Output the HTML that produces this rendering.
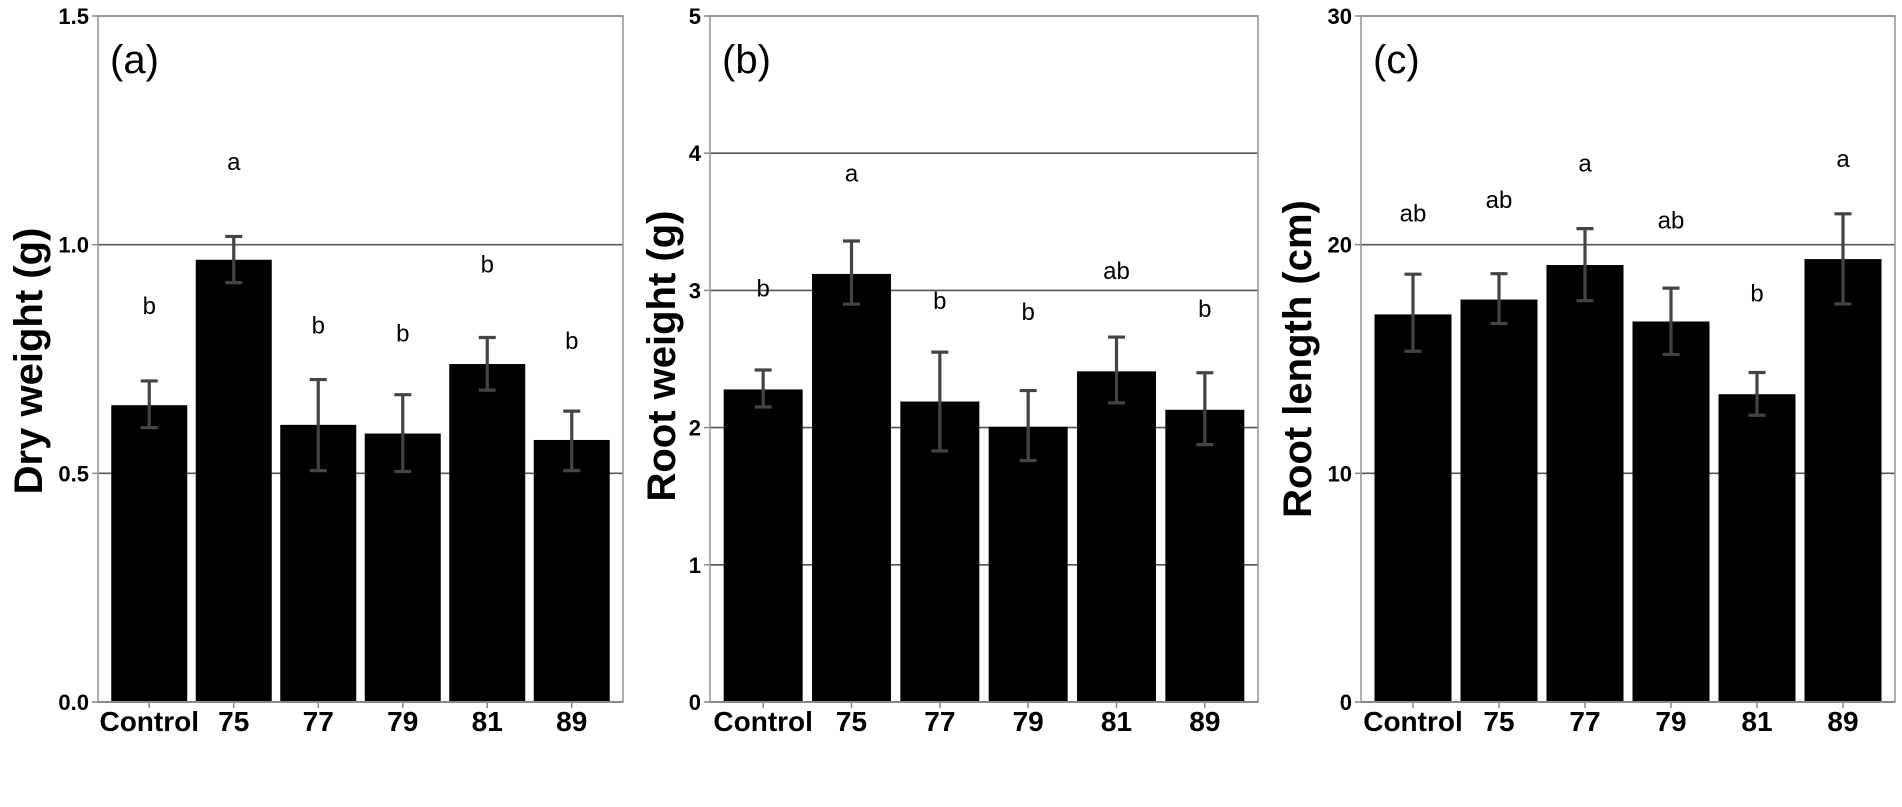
<!DOCTYPE html>
<html><head><meta charset="utf-8">
<style>
html,body{margin:0;padding:0;background:#fff;}
svg{display:block;}
text{font-family:"Liberation Sans",Arial,sans-serif;}
</style></head>
<body>
<svg id="fig" width="1902" height="807" viewBox="0 0 1902 807" xmlns="http://www.w3.org/2000/svg"></svg>
<script>
const categories = ["Control","75","77","79","81","89"];

const dryMeans = [0.649,0.967,0.606,0.587,0.739,0.573];
const dryErrHigh = [0.702,1.018,0.705,0.672,0.797,0.636];
const dryErrLow = [0.600,0.917,0.506,0.504,0.682,0.506];
const dryLetters = ["b","a","b","b","b","b"];
const dryLetterVals = [0.868,1.183,0.825,0.808,0.959,0.791];
const dryTicks = [0,0.5,1.0,1.5];
const dryTickLabels = ["0.0","0.5","1.0","1.5"];

const rootMeans = [2.278,3.12,2.19,2.006,2.41,2.13];
const rootErrHigh = [2.42,3.36,2.55,2.27,2.66,2.40];
const rootErrLow = [2.15,2.90,1.83,1.76,2.18,1.876];
const rootLetters = ["b","a","b","b","ab","b"];
const rootLetterVals = [3.02,3.86,2.93,2.85,3.15,2.87];
const rootTicks = [0,1,2,3,4,5];
const rootTickLabels = ["0","1","2","3","4","5"];

const lenMeans = [16.95,17.6,19.11,16.64,13.46,19.37];
const lenErrHigh = [18.71,18.73,20.7,18.1,14.41,21.35];
const lenErrLow = [15.34,16.55,17.55,15.2,12.54,17.41];
const lenLetters = ["ab","ab","a","ab","b","a"];
const lenLetterVals = [21.4,22.0,23.6,21.1,17.9,23.8];
const lenTicks = [0,10,20,30];
const lenTickLabels = ["0","10","20","30"];

const NS = "http://www.w3.org/2000/svg";
const svg = document.getElementById("fig");
function mk(tag, attrs, parent){
  const e = document.createElementNS(NS, tag);
  for (const k in attrs) e.setAttribute(k, attrs[k]);
  (parent||svg).appendChild(e);
  return e;
}

function drawPanel(cfg){
  const g = mk("g", {});
  
  
  const L = cfg.left, R = cfg.right, T = 16, B = 702;
  const yMax = cfg.ticks[cfg.ticks.length-1];
  const y = v => B - (v / yMax) * (B - T);
  const n = categories.length;
  const pad = cfg.pad, slot = (R - L - 2*pad) / n, bw = cfg.bw;
  const xc = i => L + pad + slot*(i+0.5);

  // gridlines
  cfg.ticks.forEach((t, i) => {
    if (t !== 0 && t !== yMax) {
      const gl = mk("line", {x1:L, x2:R, y1:y(t), y2:y(t), stroke:"#555", "stroke-width":1.6}, g);
      
      
    }
    const tm = mk("line", {x1:L-6, x2:L, y1:y(t), y2:y(t), stroke:"#888", "stroke-width":1.5}, g);
    
    
    const tl = mk("text", {x:L-9, y:y(t)+8, "text-anchor":"end", "font-size":22, "font-weight":"bold", fill:"#000"}, g);
    tl.textContent = cfg.tickLabels[i];
    
    
  });

  // bars
  cfg.means.forEach((v, i) => {
    const b = mk("rect", {x:xc(i)-bw/2, y:y(v), width:bw, height:B-y(v), fill:"#000"}, g);
    
    
  });

  // frame
  const fr = mk("rect", {x:L, y:T, width:R-L, height:B-T, fill:"none", stroke:"#999", "stroke-width":1.6}, g);
  
  
  const top = mk("line", {x1:L, x2:R, y1:T, y2:T, stroke:"#888", "stroke-width":1.6}, g);
  
  
  const base = mk("line", {x1:L, x2:R, y1:B, y2:B, stroke:"#888", "stroke-width":2}, g);
  
  

  // error bars
  cfg.means.forEach((v, i) => {
    const x = xc(i), hi = y(cfg.hi[i]), lo = y(cfg.lo[i]);
    const eg = mk("g", {stroke:"#444", "stroke-width":3.2, fill:"none"}, g);
    
    
    mk("line", {x1:x, x2:x, y1:hi, y2:lo}, eg);
    mk("line", {x1:x-8.5, x2:x+8.5, y1:hi, y2:hi}, eg);
    mk("line", {x1:x-8.5, x2:x+8.5, y1:lo, y2:lo}, eg);
  });

  // significance letters
  cfg.letters.forEach((s, i) => {
    const t = mk("text", {x:xc(i), y:y(cfg.letterVals[i])+9, "text-anchor":"middle", "font-size":24, fill:"#000"}, g);
    t.textContent = s;
    
    
  });

  // x ticks and labels
  categories.forEach((c, i) => {
    const tk = mk("line", {x1:xc(i), x2:xc(i), y1:B, y2:B+6, stroke:"#888", "stroke-width":1.5}, g);
    
    
    const t = mk("text", {x:xc(i), y:731, "text-anchor":"middle", "font-size":28, "font-weight":"bold", fill:"#000"}, g);
    t.textContent = c;
    
    
  });

  // panel label
  const pl = mk("text", {x:L+12, y:73, "font-size":40, fill:"#000"}, g);
  pl.textContent = cfg.panel;
  
  

  // y title
  const cy = (T + B) / 2 + cfg.titleDy;
  const yt = mk("text", {x:cfg.titleX, y:cy, "text-anchor":"middle", "font-size":40, "font-weight":"bold", fill:"#000",
    transform:"rotate(-90 " + cfg.titleX + " " + cy + ")"}, g);
  yt.textContent = cfg.title;
  
  
}

drawPanel({name:"panel-a-dry-weight", panel:"(a)", left:98, right:623, pad:9, bw:76,
  means:dryMeans, hi:dryErrHigh, lo:dryErrLow, letters:dryLetters, letterVals:dryLetterVals,
  ticks:dryTicks, tickLabels:dryTickLabels, title:"Dry weight (g)", titleX:42, titleDy:2});
drawPanel({name:"panel-b-root-weight", panel:"(b)", left:710, right:1258, pad:9, bw:79,
  means:rootMeans, hi:rootErrHigh, lo:rootErrLow, letters:rootLetters, letterVals:rootLetterVals,
  ticks:rootTicks, tickLabels:rootTickLabels, title:"Root weight (g)", titleX:675, titleDy:-3});
drawPanel({name:"panel-c-root-length", panel:"(c)", left:1361, right:1895, pad:9, bw:77,
  means:lenMeans, hi:lenErrHigh, lo:lenErrLow, letters:lenLetters, letterVals:lenLetterVals,
  ticks:lenTicks, tickLabels:lenTickLabels, title:"Root length (cm)", titleX:1311, titleDy:0});
</script>
</body></html>
